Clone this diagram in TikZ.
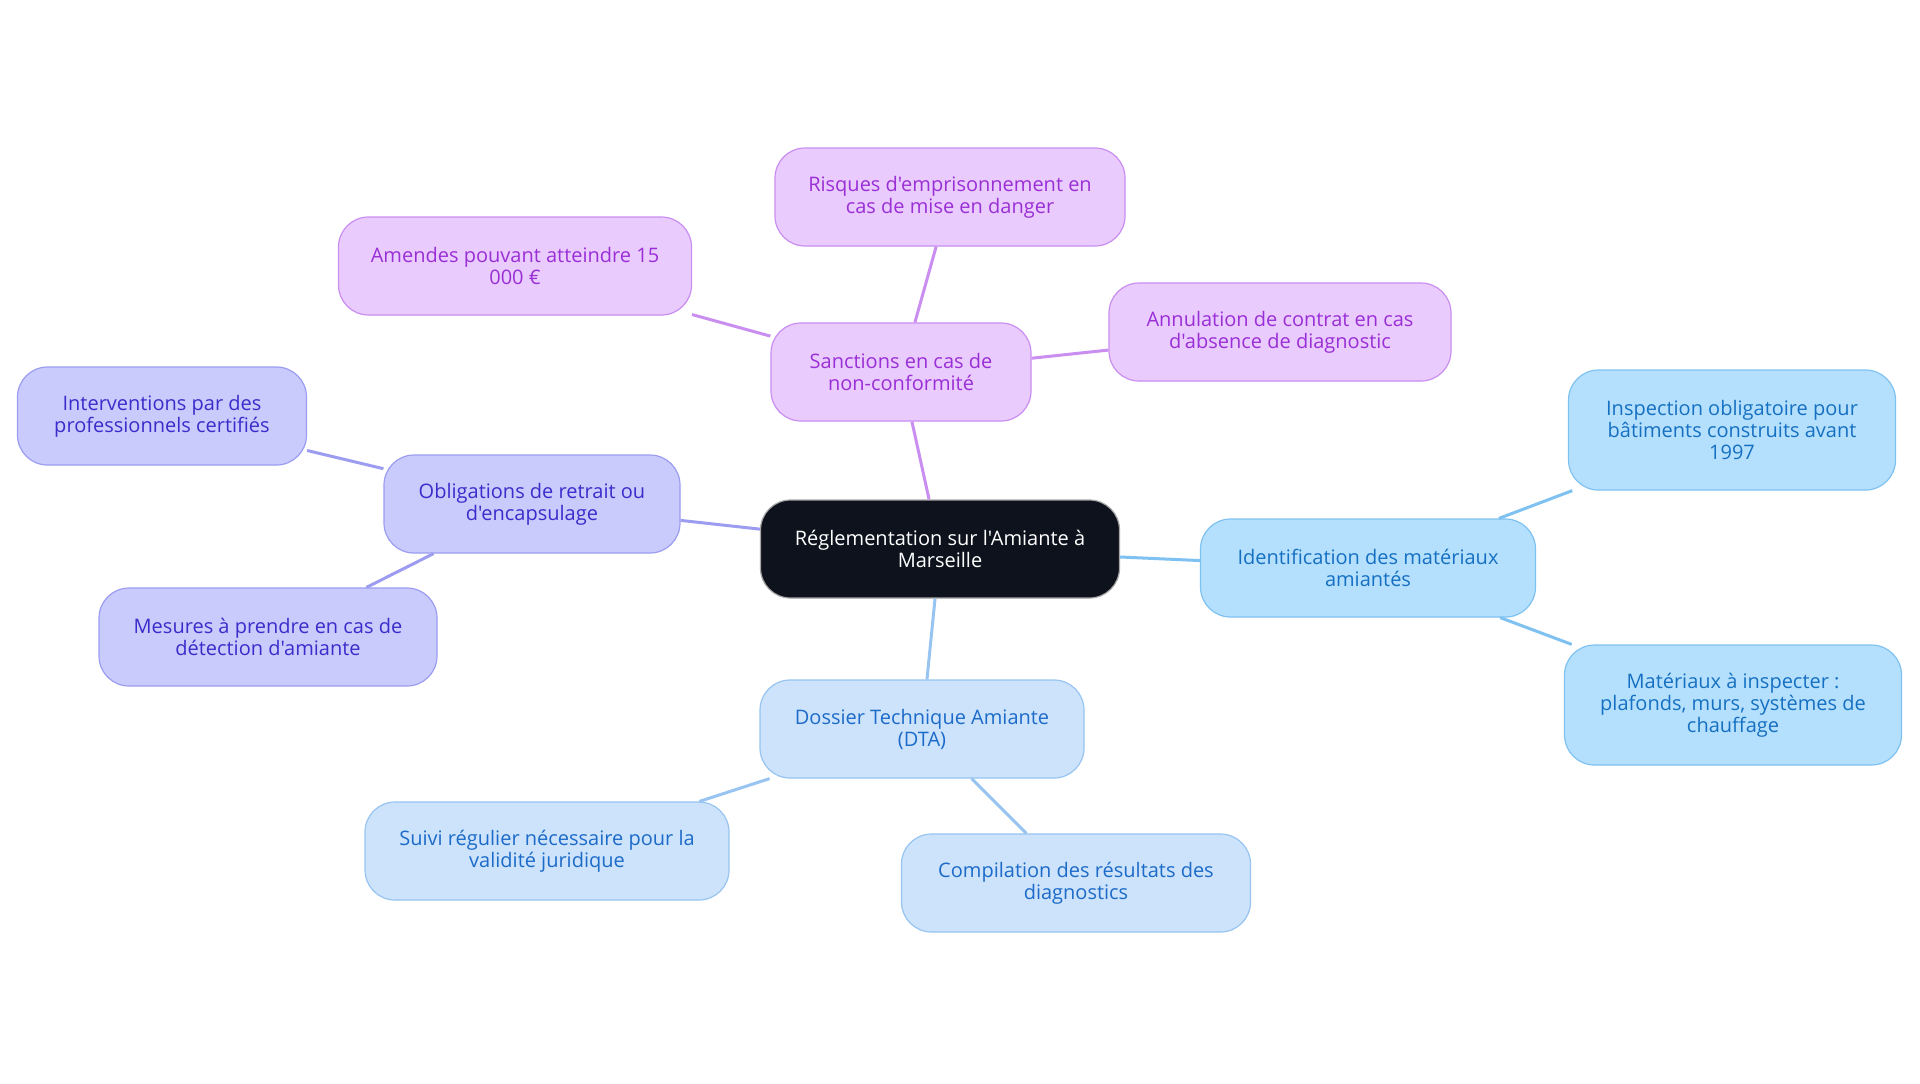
\documentclass[tikz,border=0pt]{standalone}
\usepackage{fontspec}
\setmainfont{Open Sans}[Ligatures=TeXOff]
\definecolor{rootfill}{HTML}{0D121C}
\definecolor{sancfill}{HTML}{E9CBFD}
\definecolor{sancdraw}{HTML}{C98EF0}
\definecolor{sanctext}{HTML}{9A2FD6}
\definecolor{retrfill}{HTML}{C9CBFC}
\definecolor{retrdraw}{HTML}{9C9DF0}
\definecolor{retrtext}{HTML}{3B2CCB}
\definecolor{identfill}{HTML}{B5E0FD}
\definecolor{identdraw}{HTML}{7FC2F1}
\definecolor{identtext}{HTML}{1570C2}
\definecolor{dtafill}{HTML}{CDE3FB}
\definecolor{dtadraw}{HTML}{97C4F1}
\definecolor{dtatext}{HTML}{1C6BC9}
\tikzset{
  mapbox/.style={rounded corners=15pt, align=center, minimum height=49pt, inner sep=4pt, line width=0.6pt, font=\fontsize{10}{11}\selectfont},
  rootbox/.style={mapbox, fill=rootfill, draw=gray!70, text=white},
  sancbox/.style={mapbox, fill=sancfill, draw=sancdraw, text=sanctext},
  retrbox/.style={mapbox, fill=retrfill, draw=retrdraw, text=retrtext},
  identbox/.style={mapbox, fill=identfill, draw=identdraw, text=identtext},
  dtabox/.style={mapbox, fill=dtafill, draw=dtadraw, text=dtatext},
  link/.style={line width=1.5pt}
}
\begin{document}
\begin{tikzpicture}[x=0.5pt, y=-0.5pt]
\useasboundingbox[fill=white] (0,0) rectangle (1920,1083);
% centre and the four branches
\node (root) [rootbox, minimum width=179.5pt] at (940,549) {Réglementation sur l'Amiante à\\Marseille};
\node (sanc) [sancbox, minimum width=130pt] at (901,372) {Sanctions en cas de\\non-conformité};
\node (risq) [sancbox, minimum width=175pt] at (950,197) {Risques d'emprisonnement en\\cas de mise en danger};
\node (amen) [sancbox, minimum width=176.5pt] at (515,266) {Amendes pouvant atteindre 15\\000 €};
\node (annu) [sancbox, minimum width=171pt] at (1280,332) {Annulation de contrat en cas\\d'absence de diagnostic};
\node (retr) [retrbox, minimum width=148pt] at (532,504) {Obligations de retrait ou\\d'encapsulage};
\node (inter) [retrbox, minimum width=144.5pt] at (162,416) {Interventions par des\\professionnels certifiés};
\node (mesu) [retrbox, minimum width=169pt] at (268,637) {Mesures à prendre en cas de\\détection d'amiante};
\node (ident) [identbox, minimum width=167.5pt] at (1368,568) {Identification des matériaux\\amiantés};
\node (insp) [identbox, minimum width=163.5pt, minimum height=60pt] at (1732,430) {Inspection obligatoire pour\\bâtiments construits avant\\1997};
\node (mate) [identbox, minimum width=168.5pt, minimum height=60pt] at (1733,705) {Matériaux à inspecter :\\plafonds, murs, systèmes de\\chauffage};
\node (dta) [dtabox, minimum width=162pt] at (922,729) {Dossier Technique Amiante\\(DTA)};
\node (suivi) [dtabox, minimum width=182pt] at (547,851) {Suivi régulier nécessaire pour la\\validité juridique};
\node (comp) [dtabox, minimum width=174.5pt] at (1076,883) {Compilation des résultats des\\diagnostics};
% links
\draw[link, sancdraw] (root) -- (sanc);
\draw[link, sancdraw] (sanc) -- (risq);
\draw[link, sancdraw] (sanc) -- (amen);
\draw[link, sancdraw] (sanc) -- (annu);
\draw[link, retrdraw] (root) -- (retr);
\draw[link, retrdraw] (retr) -- (inter);
\draw[link, retrdraw] (retr) -- (mesu);
\draw[link, identdraw] (root) -- (ident);
\draw[link, identdraw] (ident) -- (insp);
\draw[link, identdraw] (ident) -- (mate);
\draw[link, dtadraw] (root) -- (dta);
\draw[link, dtadraw] (dta) -- (suivi);
\draw[link, dtadraw] (dta) -- (comp);
\end{tikzpicture}
\end{document}
